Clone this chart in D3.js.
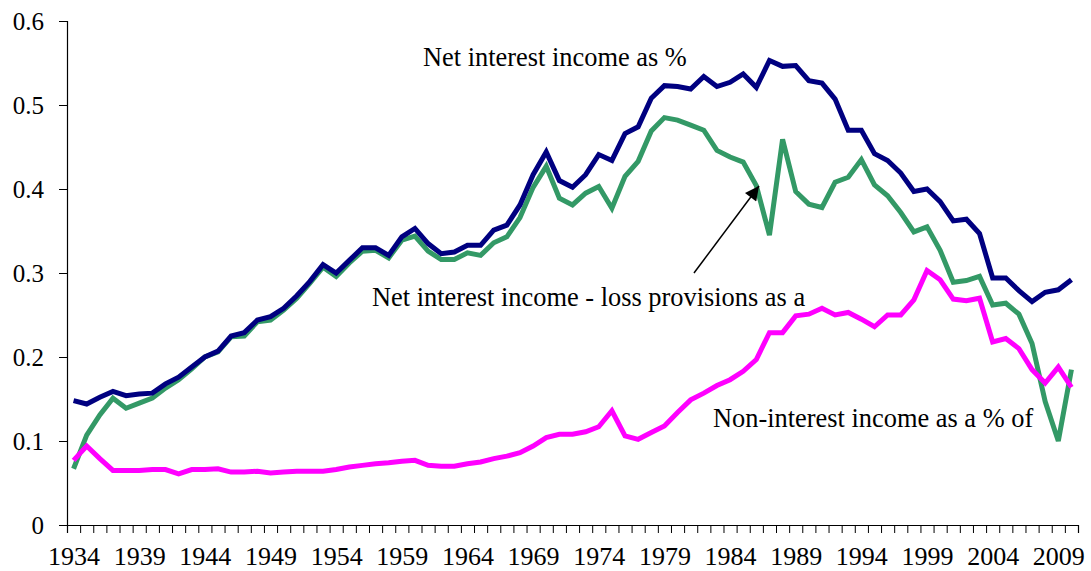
<!DOCTYPE html>
<html>
<head>
<meta charset="utf-8">
<script src="https://cdn.jsdelivr.net/npm/d3@7/dist/d3.min.js"></script>
<style>
  html, body { margin: 0; padding: 0; background: #fff; }
  svg { display: block; }
  svg text { font-family: "Liberation Serif", "Times New Roman", Tinos, "Nimbus Roman", "DejaVu Serif", serif !important; fill: #000; }
</style>
</head>
<body>
<svg id="chart" width="1091" height="571"></svg>
<script>
// ---- Data ----
const years = d3.range(1934, 2011);

const netInterest = [
  0.148, 0.144, 0.152, 0.159, 0.154, 0.156, 0.157, 0.168, 0.176, 0.188,
  0.200, 0.207, 0.225, 0.229, 0.244, 0.248, 0.258, 0.273, 0.290, 0.310,
  0.300, 0.315, 0.330, 0.330, 0.321, 0.343, 0.353, 0.335, 0.323, 0.325,
  0.333, 0.333, 0.351, 0.357, 0.381, 0.417, 0.444, 0.410, 0.402, 0.417,
  0.441, 0.434, 0.466, 0.474, 0.508, 0.523, 0.522, 0.519, 0.534, 0.522,
  0.527, 0.537, 0.521, 0.553, 0.546, 0.547, 0.529, 0.526, 0.507, 0.470,
  0.470, 0.442, 0.434, 0.419, 0.397, 0.400, 0.385, 0.362, 0.364, 0.347,
  0.294, 0.294, 0.279, 0.266, 0.277, 0.280, 0.292
];

const netInterestLessProvisions = [
  0.067, 0.107, 0.131, 0.151, 0.139, 0.145, 0.151, 0.163, 0.173, 0.186,
  0.200, 0.206, 0.224, 0.225, 0.242, 0.244, 0.256, 0.270, 0.288, 0.307,
  0.296, 0.312, 0.326, 0.327, 0.318, 0.339, 0.344, 0.326, 0.316, 0.316,
  0.324, 0.321, 0.336, 0.343, 0.366, 0.402, 0.427, 0.389, 0.381, 0.395,
  0.403, 0.377, 0.415, 0.433, 0.469, 0.485, 0.482, 0.476, 0.470, 0.446,
  0.438, 0.432, 0.404, 0.345, 0.459, 0.397, 0.382, 0.378, 0.408, 0.414,
  0.435, 0.405, 0.392, 0.372, 0.349, 0.355, 0.327, 0.289, 0.291, 0.296,
  0.262, 0.264, 0.251, 0.216, 0.147, 0.100, 0.185
];

const nonInterest = [
  0.077, 0.094, 0.079, 0.065, 0.065, 0.065, 0.066, 0.066, 0.061, 0.066,
  0.066, 0.067, 0.063, 0.063, 0.064, 0.062, 0.063, 0.064, 0.064, 0.064,
  0.066, 0.069, 0.071, 0.073, 0.074, 0.076, 0.077, 0.071, 0.070, 0.070,
  0.073, 0.075, 0.079, 0.082, 0.086, 0.094, 0.104, 0.108, 0.108, 0.111,
  0.117, 0.136, 0.106, 0.102, 0.110, 0.118, 0.134, 0.149, 0.157, 0.166,
  0.173, 0.183, 0.197, 0.229, 0.229, 0.249, 0.251, 0.258, 0.250, 0.253,
  0.245, 0.236, 0.250, 0.250, 0.268, 0.303, 0.292, 0.269, 0.267, 0.270,
  0.218, 0.222, 0.210, 0.185, 0.169, 0.188, 0.164
];

const yTicks = [0, 0.1, 0.2, 0.3, 0.4, 0.5, 0.6];
const xLabelYears = d3.range(1934, 2011, 5);

const seriesNames = [
  "Net interest income as %",
  "Net interest income - loss provisions as a",
  "Non-interest income as a % of"
];
const seriesColors = ["#000080", "#339966", "#FF00FF"];

// ---- Layout ----
const svg = d3.select("#chart");
const plotLeft = 67, plotRight = 1078, plotTop = 21, plotBottom = 525;
const serif = '"Liberation Serif", "Times New Roman", Tinos, "Nimbus Roman", "DejaVu Serif", serif';

const x = d3.scaleLinear().domain([years[0] - 0.5, years[years.length - 1] + 0.5]).range([plotLeft, plotRight]);
const y = d3.scaleLinear().domain([0, 0.6]).range([plotBottom, plotTop]);

// Y axis
const yAxis = svg.append("g")
  .attr("transform", `translate(${plotLeft},0)`)
  .call(d3.axisLeft(y).tickValues(yTicks).tickSize(8).tickPadding(15)
    .tickFormat(d => d === 0 ? "0" : d3.format(".1f")(d)));
yAxis.attr("font-family", serif).attr("font-size", 25);
yAxis.select(".domain").attr("stroke", "#000").attr("stroke-width", 1.2);
yAxis.selectAll(".tick line").attr("stroke", "#000");
yAxis.selectAll("text").attr("fill", "#000");

// X axis: boundary ticks
const boundaries = d3.range(years[0] - 0.5, years[years.length - 1] + 1, 1);
const xAxisTicks = svg.append("g")
  .attr("transform", `translate(0,${plotBottom})`)
  .call(d3.axisBottom(x).tickValues(boundaries).tickSize(8).tickFormat(""));
xAxisTicks.select(".domain").attr("stroke", "#000").attr("stroke-width", 1.2);
xAxisTicks.selectAll(".tick line").attr("stroke", "#000");

// X axis: labels at category centers
const xAxisLabels = svg.append("g")
  .attr("transform", `translate(0,${plotBottom})`)
  .call(d3.axisBottom(x).tickValues(xLabelYears).tickSize(0).tickPadding(22).tickFormat(d3.format("d")));
xAxisLabels.attr("font-family", serif).attr("font-size", 26);
xAxisLabels.select(".domain").remove();
xAxisLabels.selectAll("text").attr("fill", "#000");

// Lines
const line = d3.line()
  .x((d, i) => x(years[i]))
  .y(d => y(d));

[netInterestLessProvisions, netInterest, nonInterest].forEach((vals, k) => {
  const colorIdx = [1, 0, 2][k];
  svg.append("path")
    .datum(vals)
    .attr("fill", "none")
    .attr("stroke", seriesColors[colorIdx])
    .attr("stroke-width", 5)
    .attr("stroke-linejoin", "miter")
    .attr("d", line);
});

// Annotations
const ann = svg.append("g").attr("font-size", 26.4).attr("font-family", serif);
ann.append("text").attr("x", 423).attr("y", 66).text(seriesNames[0]);
ann.append("text").attr("x", 372).attr("y", 306).text(seriesNames[1]);
ann.append("text").attr("x", 713).attr("y", 427).text(seriesNames[2]);

// Arrow
const marker = svg.append("defs").append("marker")
  .attr("id", "arrowhead")
  .attr("viewBox", "0 0 10 10")
  .attr("refX", 10).attr("refY", 5)
  .attr("markerWidth", 16).attr("markerHeight", 14)
  .attr("markerUnits", "userSpaceOnUse")
  .attr("orient", "auto");
marker.append("path").attr("d", "M0,0 L10,5 L0,10 Z").attr("fill", "#000");

svg.append("line")
  .attr("x1", 694).attr("y1", 273)
  .attr("x2", 759).attr("y2", 186)
  .attr("stroke", "#000").attr("stroke-width", 1.5)
  .attr("marker-end", "url(#arrowhead)");
</script>
</body>
</html>
